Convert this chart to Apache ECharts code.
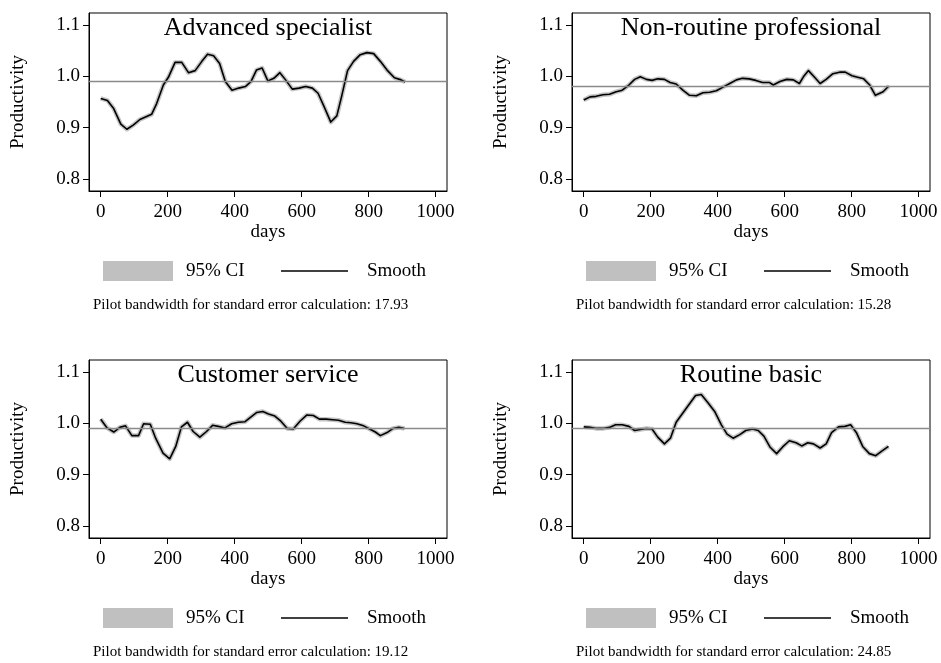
<!DOCTYPE html>
<html>
<head>
<meta charset="utf-8">
<script src="https://cdn.jsdelivr.net/npm/echarts@6/dist/echarts.min.js"></script>
<style>html,body{margin:0;padding:0;background:#fff}#c{width:941px;height:663px}</style>
</head>
<body>
<div id="c"></div>
<script>
// ---- data ----
const panelTitles = ['Advanced specialist', 'Non-routine professional', 'Customer service', 'Routine basic'];
const bandwidths = ['17.93', '15.28', '19.12', '24.85'];
const refLines = [0.989, 0.984, 0.993, 0.986];
const xTicks = [0, 200, 400, 600, 800, 1000];
const yTicks = [0.8, 0.9, 1.0, 1.1];

const advDays = [0,20,38,60,78,97,117,152,167,187,202,222,242,262,282,302,319,337,355,372,392,412,432,449,465,482,499,517,535,552,572,592,612,632,649,667,687,705,719,737,755,775,795,815,835,855,877,897,909];
const advProd = [0.957,0.953,0.938,0.907,0.897,0.905,0.916,0.926,0.947,0.983,0.998,1.027,1.027,1.007,1.011,1.029,1.043,1.040,1.025,0.990,0.973,0.977,0.980,0.990,1.012,1.016,0.991,0.996,1.007,0.993,0.975,0.977,0.980,0.977,0.967,0.941,0.911,0.923,0.960,1.011,1.029,1.042,1.046,1.044,1.029,1.012,0.997,0.993,0.989];

const nrpDays = [0,19,37,57,77,97,115,135,152,169,187,204,221,241,258,276,296,316,336,356,376,396,416,436,456,474,494,514,534,554,566,586,606,626,644,656,671,688,706,724,744,764,781,801,818,836,854,871,894,911];
const nrpProd = [0.954,0.960,0.961,0.964,0.965,0.970,0.973,0.983,0.994,0.999,0.994,0.992,0.995,0.994,0.988,0.985,0.973,0.963,0.962,0.968,0.969,0.972,0.979,0.986,0.993,0.996,0.995,0.992,0.988,0.988,0.983,0.990,0.994,0.993,0.986,0.999,1.011,0.999,0.986,0.994,1.005,1.008,1.008,1.001,0.998,0.995,0.983,0.963,0.970,0.981];

const csDays = [0,19,39,57,74,93,113,128,148,164,186,206,224,241,259,276,296,316,334,351,371,391,411,431,448,466,484,501,520,538,557,575,595,615,635,653,673,693,710,730,747,765,785,803,820,835,855,873,890,907];
const csProd = [1.008,0.991,0.983,0.992,0.995,0.976,0.976,0.999,0.998,0.971,0.942,0.931,0.955,0.993,1.002,0.984,0.973,0.984,0.996,0.994,0.991,0.999,1.002,1.003,1.012,1.021,1.023,1.018,1.014,1.004,0.990,0.989,1.004,1.016,1.015,1.008,1.008,1.007,1.006,1.002,1.001,0.999,0.995,0.989,0.983,0.976,0.982,0.990,0.992,0.990];

const rbDays = [0,19,39,57,77,95,115,135,152,169,187,204,221,241,259,276,296,316,334,351,371,391,411,428,446,466,484,504,521,538,556,576,594,614,634,651,669,686,706,724,740,761,780,797,815,833,853,872,890,910];
const rbProd = [0.993,0.992,0.990,0.990,0.992,0.997,0.997,0.994,0.986,0.988,0.990,0.989,0.973,0.960,0.971,1.002,1.020,1.038,1.054,1.056,1.040,1.023,0.997,0.979,0.971,0.978,0.986,0.989,0.986,0.975,0.954,0.941,0.954,0.966,0.962,0.956,0.962,0.960,0.952,0.960,0.982,0.993,0.994,0.997,0.981,0.955,0.941,0.937,0.946,0.955];

const panelDays = [advDays, nrpDays, csDays, rbDays];
const panelProd = [advProd, nrpProd, csProd, rbProd];

// ---- layout ----
const FONT = 'Liberation Serif';
const boxes = [
  {left: 89, top: 13}, {left: 572, top: 13},
  {left: 89, top: 360}, {left: 572, top: 360}
];
const BW = 358, BH = 178;

const grids = [], xAxes = [], yAxes = [], series = [], graphics = [];

boxes.forEach((b, i) => {
  grids.push({left: b.left, top: b.top, width: BW, height: BH, show: true,
    borderColor: '#000', borderWidth: 1, backgroundColor: '#fff', containLabel: false});
  xAxes.push({type: 'value', gridIndex: i, min: -35, max: 1034,
    name: 'days', nameLocation: 'middle', nameGap: 32,
    nameTextStyle: {fontFamily: FONT, fontSize: 19, color: '#000'},
    axisLine: {show: true, onZero: false, lineStyle: {color: '#000', width: 1}},
    axisTick: {show: true, customValues: xTicks, length: 6, lineStyle: {color: '#000'}},
    axisLabel: {customValues: xTicks, margin: 12, fontFamily: FONT, fontSize: 19, color: '#000',
      formatter: v => String(v)},
    splitLine: {show: false}});
  yAxes.push({type: 'value', gridIndex: i, min: 0.777, max: 1.123,
    name: 'Productivity', nameLocation: 'middle', nameGap: 61,
    nameTextStyle: {fontFamily: FONT, fontSize: 19, color: '#000'},
    axisLine: {show: true, onZero: false, lineStyle: {color: '#000', width: 1}},
    axisTick: {show: true, customValues: yTicks, length: 6, lineStyle: {color: '#000'}},
    axisLabel: {customValues: yTicks, margin: 9, fontFamily: FONT, fontSize: 19, color: '#000',
      formatter: v => v.toFixed(1)},
    splitLine: {show: false}});
  const pts = panelDays[i].map((d, k) => [d, panelProd[i][k]]);
  series.push({name: '95% CI', type: 'line', xAxisIndex: i, yAxisIndex: i, data: pts,
    showSymbol: false, symbol: 'none', silent: true, z: 2,
    lineStyle: {color: '#c4c4c4', width: 4.5, join: 'round'},
    markLine: {silent: true, symbol: 'none', label: {show: false},
      lineStyle: {color: '#8a8a8a', width: 1.3, type: 'solid'},
      data: [{yAxis: refLines[i]}]}});
  series.push({name: 'Smooth', type: 'line', xAxisIndex: i, yAxisIndex: i, data: pts,
    showSymbol: false, symbol: 'none', silent: true, z: 3,
    lineStyle: {color: '#000', width: 1.6, join: 'round'}});

  // title inside the box
  graphics.push({type: 'text', x: b.left + BW / 2, y: b.top + 15, z: 10,
    style: {text: panelTitles[i], font: '26px "' + FONT + '"', fill: '#000', align: 'center', verticalAlign: 'middle'}});
  // legend
  const ly = b.top + BH + 80; // legend center
  const ox = b.left - 89;
  graphics.push({type: 'rect', shape: {x: 103 + ox, y: ly - 10, width: 70, height: 20},
    style: {fill: '#c0c0c0'}});
  graphics.push({type: 'text', x: 186 + ox, y: ly,
    style: {text: '95% CI', font: '19px "' + FONT + '"', fill: '#000', align: 'left', verticalAlign: 'middle'}});
  graphics.push({type: 'line', shape: {x1: 281 + ox, y1: ly, x2: 348 + ox, y2: ly},
    style: {stroke: '#000', lineWidth: 1.6}});
  graphics.push({type: 'text', x: 367 + ox, y: ly,
    style: {text: 'Smooth', font: '19px "' + FONT + '"', fill: '#000', align: 'left', verticalAlign: 'middle'}});
  graphics.push({type: 'text', x: 93 + ox, y: b.top + BH + 114,
    style: {text: 'Pilot bandwidth for standard error calculation: ' + bandwidths[i],
      font: '15px "' + FONT + '"', fill: '#000', align: 'left', verticalAlign: 'middle'}});
});

const chart = echarts.init(document.getElementById('c'), null, {renderer: 'canvas'});
chart.setOption({
  animation: false,
  backgroundColor: '#fff',
  grid: grids, xAxis: xAxes, yAxis: yAxes, series: series,
  graphic: graphics
});
</script>
</body>
</html>
